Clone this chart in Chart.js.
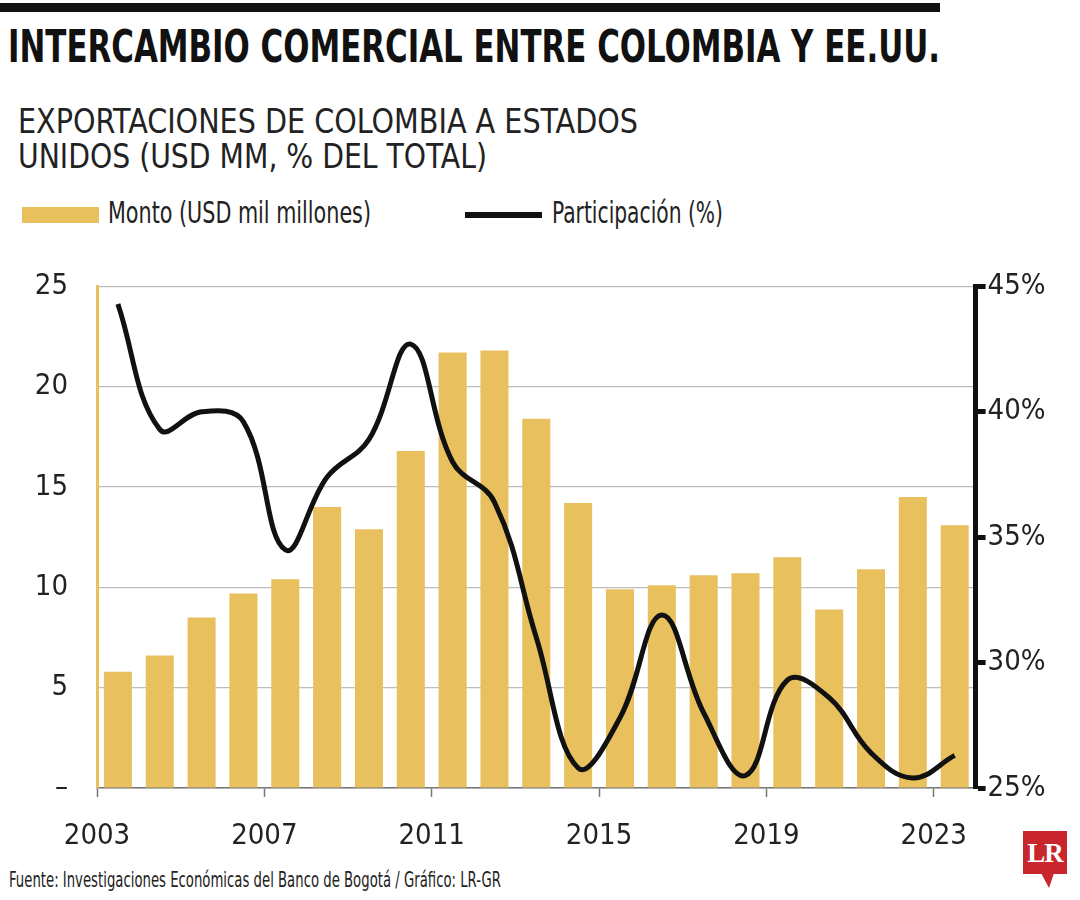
<!DOCTYPE html>
<html>
<head>
<meta charset="utf-8">
<script src="https://cdn.jsdelivr.net/npm/chart.js@4.4.0/dist/chart.umd.min.js"></script>
<style>
  body { margin: 0; background: #fff; width: 1080px; height: 900px; position: relative; overflow: hidden;
         font-family: 'Liberation Sans Narrow', 'DejaVu Sans Condensed', 'Roboto Condensed', sans-serif; color: #1a1a1a; }
  .t { position: absolute; white-space: nowrap; line-height: 1; transform-origin: 0 0; display: inline-block; }
  #topbar { position: absolute; left: 0; top: 3px; width: 940px; height: 9px; background: #111; }
  #wrap { position: absolute; left: 0; top: 240px; width: 1080px; height: 620px; }
  #wrap canvas { display: block; }
  .lg-box { position: absolute; left: 22px; top: 207px; width: 77px; height: 16px; background: #e8c15e; }
  .lg-line { position: absolute; left: 465px; top: 212px; width: 77px; height: 6px; background: #111; }
  #logo { position: absolute; left: 1023px; top: 831px; width: 44px; height: 43px; background: #c9252c;
          color: #fff; font: bold 27px 'Liberation Serif', 'DejaVu Serif', serif; text-align: center; line-height: 44px; letter-spacing: -1px; }
  #tail { position: absolute; left: 1041px; top: 873px; width: 13px; height: 15px; background: #c9252c;
          clip-path: polygon(0 0, 100% 0, 62% 100%); }
</style>
</head>
<body>
<div id="topbar"></div>
<div class="t" data-w="932" style="left:8px;top:25px;font-size:44px;font-weight:bold;color:#111">INTERCAMBIO COMERCIAL ENTRE COLOMBIA Y EE.UU.</div>
<div class="t" data-w="620" style="left:18px;top:104px;font-size:34px;color:#222">EXPORTACIONES DE COLOMBIA A ESTADOS</div>
<div class="t" data-w="469" style="left:18px;top:139px;font-size:34px;color:#222">UNIDOS (USD MM, % DEL TOTAL)</div>

<div class="lg-box"></div>
<div class="t" data-w="263" style="left:108px;top:198px;font-size:30px;color:#222">Monto (USD mil millones)</div>
<div class="lg-line"></div>
<div class="t" data-w="171" style="left:552px;top:198px;font-size:30px;color:#222">Participación (%)</div>

<div id="wrap"><canvas id="chart" width="1080" height="620"></canvas></div>

<div class="t" data-w="492" style="left:9px;top:870px;font-size:21px;color:#222">Fuente: Investigaciones Económicas del Banco de Bogotá / Gráfico: LR-GR</div>
<div id="logo">LR</div>
<div id="tail"></div>

<script>
const years = [2003, 2004, 2005, 2006, 2007, 2008, 2009, 2010, 2011, 2012, 2013,
               2014, 2015, 2016, 2017, 2018, 2019, 2020, 2021, 2022, 2023];
const montos = [5.8, 6.6, 8.5, 9.7, 10.4, 14.0, 12.9, 16.8, 21.7, 21.8, 18.4,
                14.2, 9.9, 10.1, 10.6, 10.7, 11.5, 8.9, 10.9, 14.5, 13.1];
const participacion = [44.3, 39.3, 40.0, 39.6, 34.5, 37.4, 38.9, 42.7, 38.0, 36.4, 31.0,
                       25.8, 27.8, 31.9, 28.0, 25.5, 29.3, 28.6, 26.4, 25.4, 26.3];
const xTicks = [2003, 2007, 2011, 2015, 2019, 2023];
const montoTicks = [0, 5, 10, 15, 20, 25];
const partTicks = [25, 30, 35, 40, 45];

const FAMILY = "'Liberation Sans Narrow', 'DejaVu Sans Condensed', 'Roboto Condensed', sans-serif";
const GOLD = '#e8c15e';

// stretch the html texts to the widths they take in the reference
function fitTexts() {
    document.querySelectorAll('[data-w]').forEach(el => {
        el.style.transform = 'none';
        const w = el.getBoundingClientRect().width;
        if (w > 0) el.style.transform = `scaleX(${Number(el.dataset.w) / w})`;
    });
}

function drawChart() {
    // each year is drawn in the middle of its slot: 2003 sits between 2003 and 2004
    const barData = years.map((y, i) => ({ x: y + 0.5, y: montos[i] }));
    const lineData = years.map((y, i) => ({ x: y + 0.5, y: participacion[i] }));

    new Chart(document.getElementById('chart').getContext('2d'), {
        data: {
            datasets: [
                {
                    type: 'line',
                    label: 'Participación (%)',
                    data: lineData,
                    yAxisID: 'y1',
                    borderColor: '#111',
                    borderWidth: 5,
                    pointRadius: 0,
                    tension: 0.4,
                    fill: false,
                    order: 0
                },
                {
                    type: 'bar',
                    label: 'Monto (USD mil millones)',
                    data: barData,
                    yAxisID: 'y',
                    backgroundColor: GOLD,
                    borderWidth: 0,
                    categoryPercentage: 1,
                    barPercentage: 0.67,
                    order: 1
                }
            ]
        },
        options: {
            responsive: false,
            animation: false,
            layout: { padding: { top: 2, left: 0, right: 0, bottom: 0 } },
            plugins: { legend: { display: false }, tooltip: { enabled: false } },
            scales: {
                x: {
                    type: 'linear',
                    min: years[0],
                    max: years[years.length - 1] + 1,
                    offset: false,
                    afterBuildTicks: s => { s.ticks = xTicks.map(v => ({ value: v })); },
                    afterFit: s => { s.height = 72; },
                    grid: { drawOnChartArea: false, drawTicks: true, tickLength: 9, tickWidth: 1.5, tickColor: '#777', offset: false },
                    border: { color: '#777', width: 1.5 },
                    ticks: {
                        autoSkip: false, maxRotation: 0, padding: 22, color: '#222',
                        font: { family: FAMILY, size: 29 },
                        callback: v => String(v)
                    }
                },
                y: {
                    position: 'left',
                    min: 0, max: 25,
                    afterBuildTicks: s => { s.ticks = montoTicks.map(v => ({ value: v })); },
                    afterFit: s => { s.width = 97; },
                    grid: { color: '#bdbdbd', lineWidth: 1.2, drawTicks: false },
                    border: { color: GOLD, width: 3 },
                    ticks: {
                        padding: 29, color: '#222',
                        font: { family: FAMILY, size: 29 },
                        callback: v => v === 0 ? '–' : v
                    }
                },
                y1: {
                    position: 'right',
                    min: 25, max: 45,
                    afterBuildTicks: s => { s.ticks = partTicks.map(v => ({ value: v })); },
                    afterFit: s => { s.width = 104.4; },
                    grid: { drawOnChartArea: false, drawTicks: true, tickLength: 10, tickWidth: 5, tickColor: '#111' },
                    border: { color: '#111', width: 5 },
                    ticks: {
                        padding: 2, color: '#222',
                        font: { family: FAMILY, size: 29 },
                        callback: v => v + '%'
                    }
                }
            }
        }
    });
}

document.fonts.ready.then(() => {
    fitTexts();
    drawChart();
});
</script>
</body>
</html>
